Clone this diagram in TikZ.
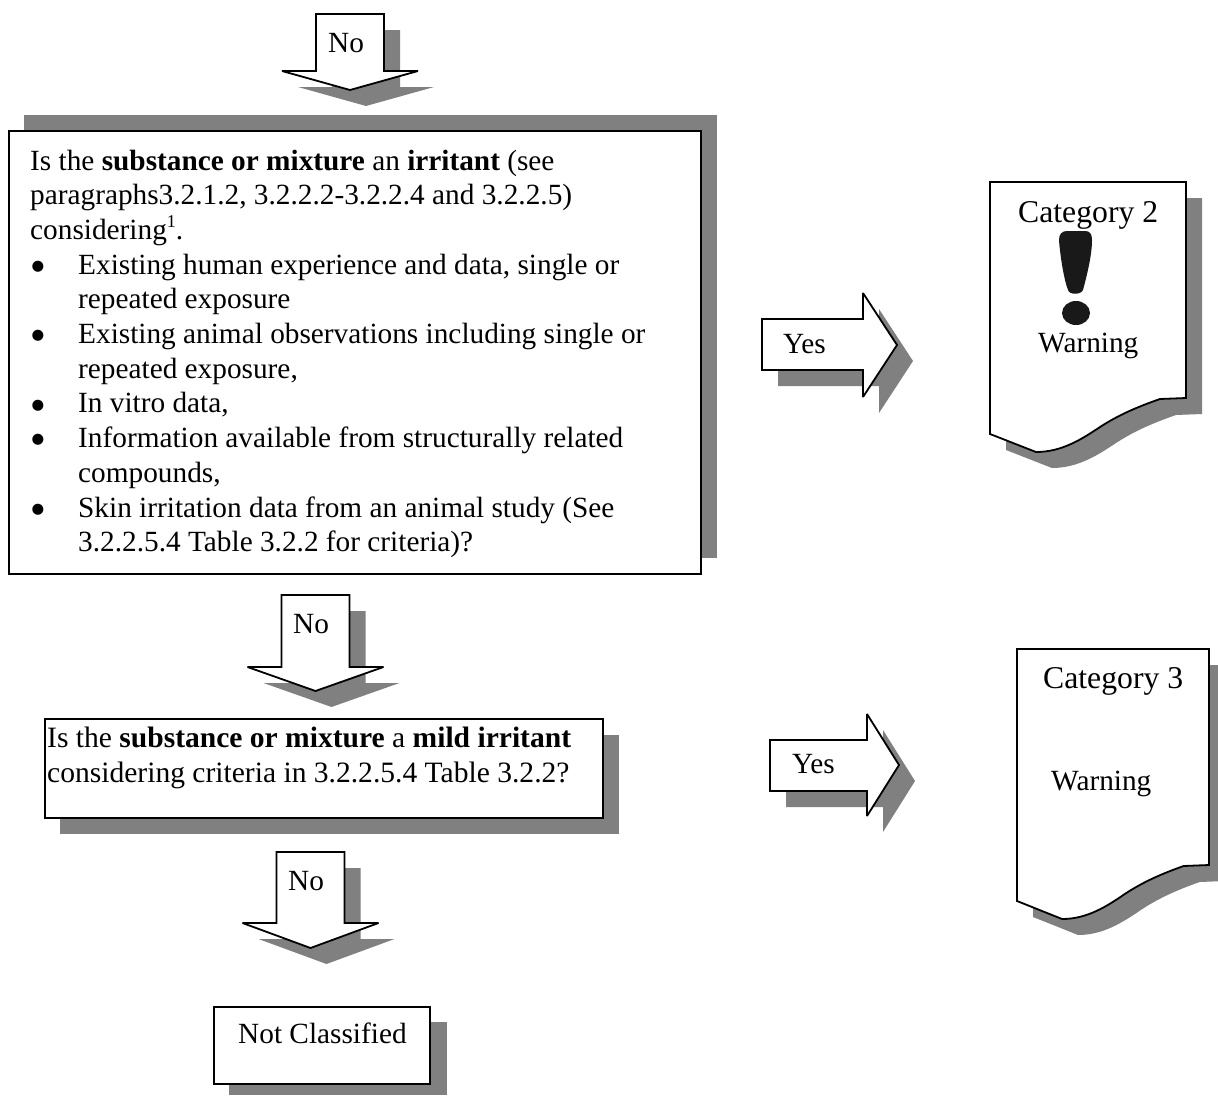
\documentclass[tikz,border=0pt]{standalone}
\usepackage{fontspec}
\setmainfont{Liberation Serif}
\newfontfamily\bulfont{DejaVu Sans}
\definecolor{shadowgray}{HTML}{808080}
\newcommand{\downpath}[4]{({#1-34},#2) -- ({#1+34},#2) -- ({#1+34},#3) -- ({#1+68},#3) -- (#1,#4) -- ({#1-68},#3) -- ({#1-34},#3) -- cycle}
\newcommand{\rightpath}[7]{(#1,#3) -- (#2,#3) -- (#2,#5) -- (#7,#6) -- (#2,#6-#5+#6) -- (#2,#4) -- (#1,#4) -- cycle}
\newcommand{\docpath}{(0,0) -- (196,0) -- (196,216) -- (170,217) .. controls (150,224) and (130,232) .. (110,245) .. controls (92,257) and (72,270) .. (46,270) -- (0,252) -- cycle}
\newcommand{\bul}{\makebox[0pt][l]{\hspace{-46.5pt}\raisebox{3.7pt}{\bulfont\fontsize{14.5}{14.5}\selectfont ●}}}
\newcommand{\supone}{\raisebox{12pt}{\fontsize{18}{18}\selectfont 1}}
\tikzset{
  x=1pt, y=-1pt,
  shadowfill/.style={fill=shadowgray, draw=none},
  outline/.style={draw=black, fill=white, line width=1.8pt, line join=miter, miter limit=2.5},
  label/.style={anchor=base west, inner sep=0pt, font=\fontsize{29.3}{34.7}\selectfont},
  catlabel/.style={anchor=base west, inner sep=0pt, font=\fontsize{31.7}{36}\selectfont},
  para/.style={anchor=north west, inner sep=0pt, align=left, font=\fontsize{29.3}{34.7}\selectfont},
  mark sign/.style={fill=black!90, draw=none}
}
\begin{document}
\begin{tikzpicture}
\useasboundingbox (0,0) rectangle (1218,1095);
% top arrow
\fill[shadowfill, shift={(16,16)}] \downpath{350}{14}{71}{90};
\draw[outline] \downpath{350}{14}{71}{90};
\node[label] (no1) at (328,52) {No};
% main box
\fill[shadowfill] (24,115) rectangle (717,558);
\draw[outline] (9,131) rectangle (701,574);
\node[para] (q1) at (30,149.5) {Is the \textbf{substance or mixture} an \textbf{irritant} (see\\
paragraphs3.2.1.2, 3.2.2.2-3.2.2.4 and 3.2.2.5)\\
considering\supone.\\
\hspace*{48pt}\bul Existing human experience and data, single or\\
\hspace*{48pt}repeated exposure\\
\hspace*{48pt}\bul Existing animal observations including single or\\
\hspace*{48pt}repeated exposure,\\
\hspace*{48pt}\bul In vitro data,\\
\hspace*{48pt}\bul Information available from structurally related\\
\hspace*{48pt}compounds,\\
\hspace*{48pt}\bul Skin irritation data from an animal study (See\\
\hspace*{48pt}3.2.2.5.4 Table 3.2.2 for criteria)?};
% second arrow
\fill[shadowfill, shift={(16,16)}] \downpath{315.5}{595}{667}{691};
\draw[outline] \downpath{315.5}{595}{667}{691};
\node[label] (no2) at (293,633) {No};
% second box
\fill[shadowfill] (60,735) rectangle (619,834);
\draw[outline] (45,719) rectangle (603,818);
\node[para, font=\fontsize{29.55}{34.7}\selectfont] (q2) at (47,727) {Is the \textbf{substance or mixture} a \textbf{mild irritant}\\
considering criteria in 3.2.2.5.4 Table 3.2.2?};
% third arrow
\fill[shadowfill, shift={(16,16)}] \downpath{310.5}{852}{923}{948};
\draw[outline] \downpath{310.5}{852}{923}{948};
\node[label] (no3) at (288,890) {No};
% not classified
\fill[shadowfill] (229,1022) rectangle (447,1095);
\draw[outline] (214,1007) rectangle (430,1084);
\node[label] (nc) at (238,1043) {Not Classified};
% yes arrows
\fill[shadowfill, shift={(16,16)}] \rightpath{762}{863}{319}{370}{293}{345}{897};
\draw[outline] \rightpath{762}{863}{319}{370}{293}{345}{897};
\node[label] (yes1) at (783,353) {Y{}es};
\fill[shadowfill, shift={(16,16)}] \rightpath{770}{867}{740}{791}{714}{765}{899};
\draw[outline] \rightpath{770}{867}{740}{791}{714}{765}{899};
\node[label] (yes2) at (792,773) {Y{}es};
% category 2 document
\fill[shadowfill, shift={(1006,198)}] \docpath;
\draw[outline, shift={(990,182)}] \docpath;
\node[catlabel] (cat2) at (1018,222) {Category 2};
\fill[mark sign] (1067,231) .. controls (1062,231) and (1059,234) .. (1059,240) .. controls (1060,255) and (1064,280) .. (1068,290) .. controls (1069,295) and (1081,295) .. (1083,290) .. controls (1087,275) and (1092,255) .. (1092,240) .. controls (1092,234) and (1090,231) .. (1085,231) -- cycle;
\fill[mark sign] (1076,313) ellipse [x radius=14, y radius=12];
\node[label] (warn2) at (1038,352) {Warning};
% category 3 document
\fill[shadowfill, shift={(1033,665)}, xscale=0.98] \docpath;
\draw[outline, shift={(1017,649)}, xscale=0.98] \docpath;
\node[catlabel] (cat3) at (1043,688) {Category 3};
\node[label] (warn3) at (1051,790) {Warning};
\end{tikzpicture}
\end{document}
